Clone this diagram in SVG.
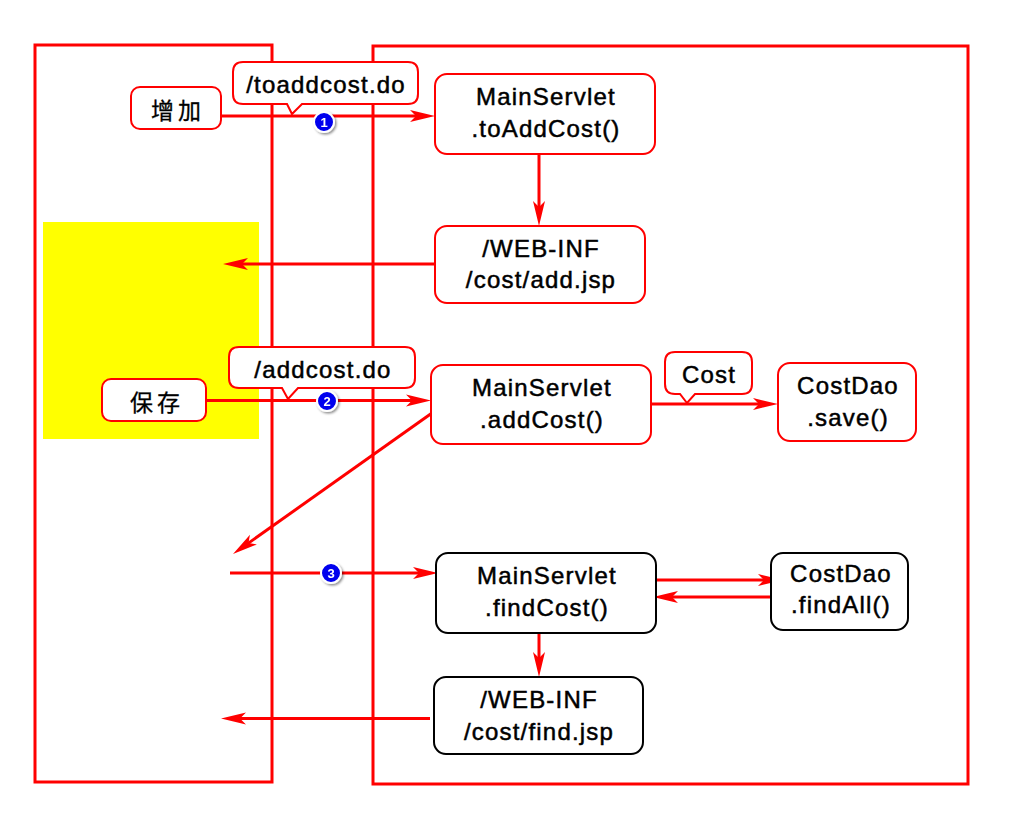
<svg xmlns="http://www.w3.org/2000/svg" width="1024" height="818" viewBox="0 0 1024 818">
  <style>
    .panel { fill: none; stroke: #ff0000; stroke-width: 3; }
    .box { fill: #ffffff; stroke: #ff0000; stroke-width: 2; }
    .box-k { fill: #ffffff; stroke: #000000; stroke-width: 2; }
    .lbl { font-family: "Liberation Sans", Arial, sans-serif; font-size: 24px; letter-spacing: 1.2px; fill: #000000; stroke: #000000; stroke-width: 0.5; text-anchor: middle; }
    .cjk { font-family: "Noto Sans CJK SC", "Liberation Sans", sans-serif; font-size: 23px; fill: #000000; stroke: #000000; stroke-width: 0.3; text-anchor: middle; letter-spacing: 4px; }
    .flow { fill: none; stroke: #ff0000; stroke-width: 3; marker-end: url(#head); }
    .badge-num { font-family: "Liberation Sans", Arial, sans-serif; font-size: 13px; font-weight: bold; fill: #ffffff; text-anchor: middle; }
  </style>
  <defs>
    <marker id="head" markerUnits="userSpaceOnUse" viewBox="-14 -7 27 14" refX="0" refY="0" markerWidth="27" markerHeight="14" orient="auto" overflow="visible">
      <path d="M12,0 L-13,-6 L-7,0 L-13,6 Z" fill="#ff0000"/>
    </marker>
    <filter id="shadow" x="-50%" y="-50%" width="200%" height="200%">
      <feDropShadow dx="1.5" dy="1.5" stdDeviation="1" flood-color="#000000" flood-opacity="0.45"/>
    </filter>
  </defs>

  <!-- page / server panels -->
  <g id="browser-panel">
    <rect class="panel" x="35" y="45" width="237" height="737"/>
    <rect x="43" y="222" width="216" height="217" fill="#ffff00"/>
  </g>
  <g id="server-panel">
    <rect class="panel" x="373" y="46" width="595" height="738"/>
  </g>

  <!-- connectors -->
  <g id="connectors">
    <path class="flow" d="M222,116 H423"/>
    <path class="flow" d="M539,154 V214"/>
    <path class="flow" d="M438,264 H235"/>
    <path class="flow" d="M206,400.5 H419"/>
    <path class="flow" d="M651,404 H766"/>
    <path class="flow" d="M432,413 L242.8,547.1"/>
    <path class="flow" d="M230,573 H426"/>
    <path class="flow" d="M649,580 H771"/>
    <path class="flow" d="M777,597 H665"/>
    <path class="flow" d="M539,633 V665"/>
    <path class="flow" d="M430,718.5 H233"/>
  </g>

  <!-- browser-side buttons -->
  <g id="btn-add">
    <rect class="box" x="131" y="87" width="90" height="42" rx="9"/>
    <text class="cjk" x="178" y="119">增加</text>
  </g>
  <g id="btn-save">
    <rect class="box" x="102" y="379" width="104" height="42" rx="9"/>
    <text class="cjk" x="157" y="411">保存</text>
  </g>

  <!-- request callouts -->
  <g id="req-toaddcost">
    <path class="box" d="M243,62 H408 Q418,62 418,72 V94 Q418,104 408,104 H302 L292,114 L287,104 H243 Q233,104 233,94 V72 Q233,62 243,62 Z"/>
    <text class="lbl" x="326" y="93">/toaddcost.do</text>
  </g>
  <g id="req-addcost">
    <path class="box" d="M239,347 H405 Q415,347 415,357 V378 Q415,388 405,388 H298 L288,399 L282,388 H239 Q229,388 229,378 V357 Q229,347 239,347 Z"/>
    <text class="lbl" x="323" y="378">/addcost.do</text>
  </g>
  <g id="param-cost">
    <path class="box" d="M675,352 H742 Q752,352 752,362 V384 Q752,394 742,394 H695 L687,403 L680,394 H675 Q665,394 665,384 V362 Q665,352 675,352 Z"/>
    <text class="lbl" x="709" y="383">Cost</text>
  </g>

  <!-- server-side handlers -->
  <g id="to-add-cost">
    <rect class="box" x="435" y="74" width="220" height="80" rx="12"/>
    <text class="lbl" x="546" y="105">MainServlet</text>
    <text class="lbl" x="546" y="137">.toAddCost()</text>
  </g>
  <g id="add-jsp">
    <rect class="box" x="435" y="226" width="210" height="77" rx="12"/>
    <text class="lbl" x="541" y="257">/WEB-INF</text>
    <text class="lbl" x="541" y="288">/cost/add.jsp</text>
  </g>
  <g id="add-cost">
    <rect class="box" x="431" y="365" width="220" height="79" rx="12"/>
    <text class="lbl" x="542" y="396">MainServlet</text>
    <text class="lbl" x="542" y="428">.addCost()</text>
  </g>
  <g id="dao-save">
    <rect class="box" x="778" y="363" width="138" height="78" rx="12"/>
    <text class="lbl" x="848" y="394">CostDao</text>
    <text class="lbl" x="848" y="426">.save()</text>
  </g>
  <g id="find-cost">
    <rect class="box-k" x="436" y="553" width="220" height="80" rx="12"/>
    <text class="lbl" x="547" y="584">MainServlet</text>
    <text class="lbl" x="547" y="616">.findCost()</text>
  </g>
  <g id="dao-find-all">
    <rect class="box-k" x="771" y="553" width="137" height="77" rx="12"/>
    <text class="lbl" x="841" y="582">CostDao</text>
    <text class="lbl" x="841" y="613">.findAll()</text>
  </g>
  <g id="find-jsp">
    <rect class="box-k" x="434" y="677" width="209" height="77" rx="12"/>
    <text class="lbl" x="539" y="708">/WEB-INF</text>
    <text class="lbl" x="539" y="740">/cost/find.jsp</text>
  </g>

  <!-- step markers -->
  <g id="step-1" filter="url(#shadow)">
    <circle cx="324" cy="122" r="10" fill="#0000ee" stroke="#ffffff" stroke-width="2"/>
    <text class="badge-num" x="324" y="126.5">1</text>
  </g>
  <g id="step-2" filter="url(#shadow)">
    <circle cx="327" cy="401" r="10" fill="#0000ee" stroke="#ffffff" stroke-width="2"/>
    <text class="badge-num" x="327" y="405.5">2</text>
  </g>
  <g id="step-3" filter="url(#shadow)">
    <circle cx="331" cy="573" r="10" fill="#0000ee" stroke="#ffffff" stroke-width="2"/>
    <text class="badge-num" x="331" y="577.5">3</text>
  </g>
</svg>
